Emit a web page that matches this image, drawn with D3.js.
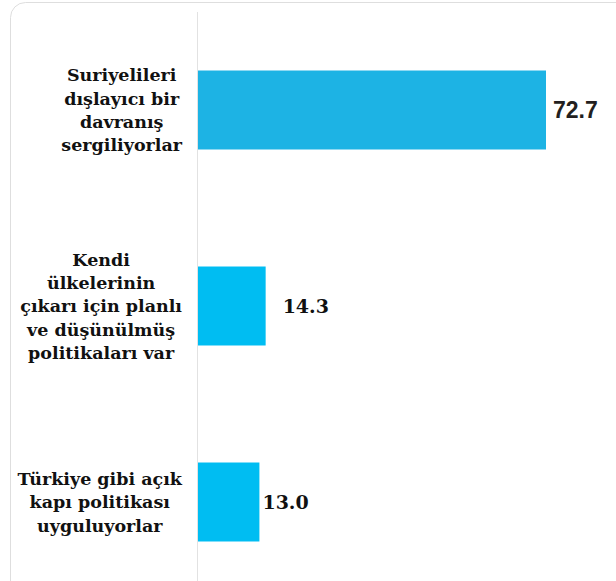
<!DOCTYPE html>
<html>
<head>
<meta charset="utf-8">
<script src="https://cdn.jsdelivr.net/npm/d3@7"></script>
<style>
  body { margin: 0; background: #fff; }
  .cat { font-family: "DejaVu Serif", serif; font-weight: bold; font-size: 17.5px; fill: #111; }
  .val { font-family: "DejaVu Serif", serif; font-weight: bold; font-size: 19px; fill: #111; }
  .val.sans { font-family: "Liberation Sans", Arial, sans-serif; font-size: 23px; fill: #231f20; }
</style>
</head>
<body>
<script>
// data
var categories = [
  "Suriyelileri\ndışlayıcı bir\ndavranış\nsergiliyorlar",
  "Kendi\nülkelerinin\nçıkarı için planlı\nve düşünülmüş\npolitikaları var",
  "Türkiye gibi açık\nkapı politikası\nuyguluyorlar"
];
var values = [72.7, 14.3, 13.0];
var valueLabels = ["72.7", "14.3", "13.0"];

// layout / style
var barColors = ["#1db3e4", "#00bdf2", "#00bdf2"];
var labelGap = [7, 17, 3];
var labelClass = ["val sans", "val", "val"];

var W = 616, H = 581;
var x0 = 197;

var svg = d3.select("body").append("svg")
    .attr("width", W)
    .attr("height", H);

// card frame
svg.append("rect")
    .attr("x", 10.5).attr("y", 2.5)
    .attr("width", 700).attr("height", 700)
    .attr("rx", 15)
    .attr("fill", "none")
    .attr("stroke", "#dedede");

var x = d3.scaleLinear()
    .domain([0, 72.7])
    .range([x0, 546]);

var y = d3.scaleBand()
    .domain(d3.range(categories.length))
    .range([12, 600])
    .paddingInner(0.597)
    .paddingOuter(0.2985);

// axis line
svg.append("line")
    .attr("x1", x0 + 0.5).attr("x2", x0 + 0.5)
    .attr("y1", 12).attr("y2", H)
    .attr("stroke", "#e2e2e2");

svg.selectAll(".bar")
    .data(values)
    .enter().append("rect")
    .attr("class", "bar")
    .attr("x", x(0) + 1)
    .attr("y", function(d, i) { return y(i); })
    .attr("width", function(d) { return x(d) - x(0) - 1; })
    .attr("height", y.bandwidth())
    .attr("fill", function(d, i) { return barColors[i]; });

svg.selectAll(".val")
    .data(values)
    .enter().append("text")
    .attr("class", function(d, i) { return labelClass[i]; })
    .attr("x", function(d, i) { return x(d) + labelGap[i]; })
    .attr("y", function(d, i) { return y(i) + y.bandwidth() / 2; })
    .attr("dy", "0.36em")
    .text(function(d, i) { return valueLabels[i]; });

// category labels, block right-aligned, lines centered
var lineH = 23.3;
categories.forEach(function(c, i) {
    var lines = c.split("\n");
    var t = svg.append("text")
        .attr("class", "cat")
        .attr("text-anchor", "middle");
    var cy = y(i) + y.bandwidth() / 2;
    var top = cy - (lines.length - 1) * lineH / 2;
    var spans = lines.map(function(l, j) {
        return t.append("tspan")
            .attr("y", top + j * lineH)
            .attr("dy", "0.36em")
            .text(l);
    });
    var maxW = d3.max(spans, function(s) { return s.node().getComputedTextLength(); });
    var cx = 182 - maxW / 2;
    spans.forEach(function(s) { s.attr("x", cx); });
});
</script>
</body>
</html>
